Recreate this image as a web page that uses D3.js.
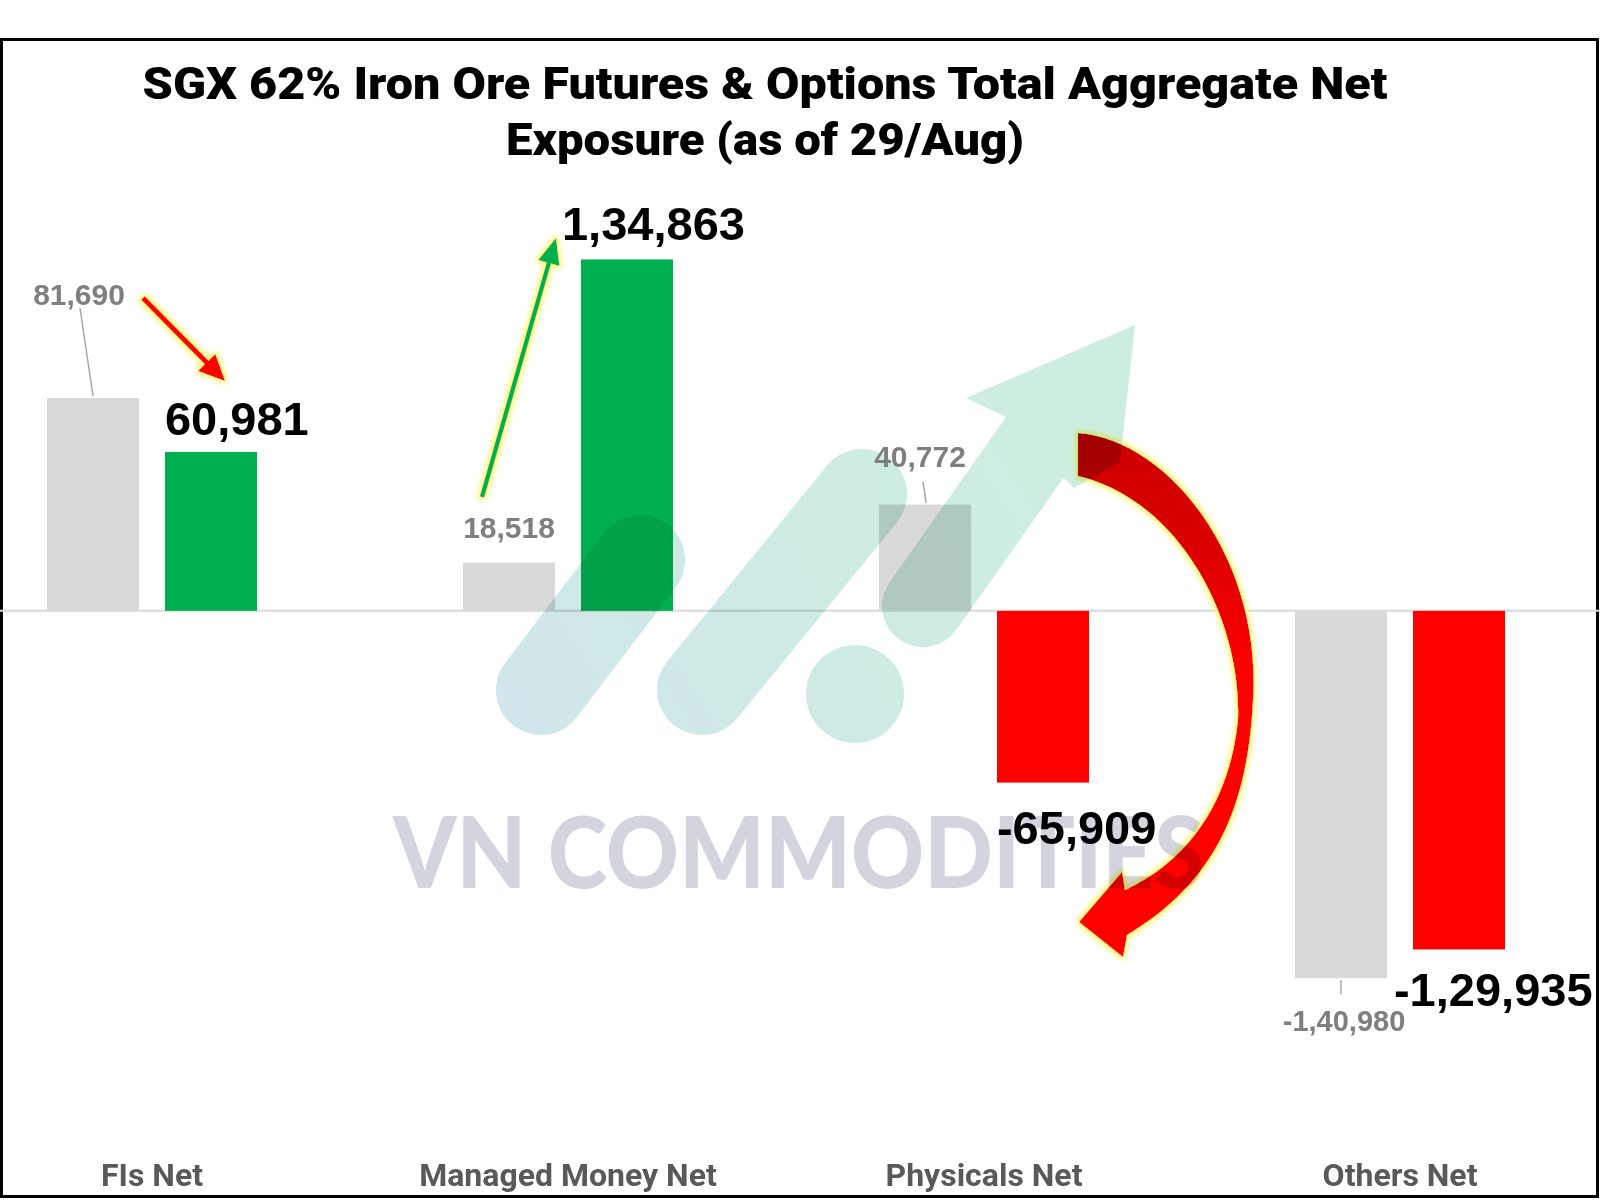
<!DOCTYPE html>
<html>
<head>
<meta charset="utf-8">
<script src="https://cdn.jsdelivr.net/npm/d3@7"></script>
<style>
html, body { margin: 0; padding: 0; background: #fff; }
svg { display: block; }
.blend { mix-blend-mode: multiply; }
</style>
</head>
<body>
<div id="chart"></div>
<script>
// data
var categories = ["FIs Net", "Managed Money Net", "Physicals Net", "Others Net"];
var seriesKeys = ["previous", "latest"];
var previousValues = [81690, 18518, 40772, -140980];
var latestValues = [60981, 134863, -65909, -129935];
var previousLabels = ["81,690", "18,518", "40,772", "-1,40,980"];
var latestLabels = ["60,981", "1,34,863", "-65,909", "-1,29,935"];
var titleLines = ["SGX 62% Iron Ore Futures & Options Total Aggregate Net", "Exposure (as of 29/Aug)"];
var watermark = "VN COMMODITIES";

// label placement (offsets from the bar end)
var prevOffsets = [[-14, -93], [0, -25], [-5, -38], [3, 53]];
var latestOffsets = [[0, -17], [-19, -19], [0, 61], [-19, 57]];
var leaders = [[0, -13, -90, 0, -2], [2, -2, -23, 1, -2], [3, 0, 2, 0, 16]];

var width = 1600,
    height = 1200;

var svg = d3.select("#chart").append("svg")
    .attr("width", width)
    .attr("height", height);

var defs = svg.append("defs");

// yellow halo used on the hand drawn arrows
var glow = defs.append("filter").attr("id", "glow")
    .attr("x", "-50%").attr("y", "-50%").attr("width", "200%").attr("height", "200%");
glow.append("feMorphology").attr("in", "SourceAlpha").attr("operator", "dilate").attr("radius", 2).attr("result", "dil");
glow.append("feGaussianBlur").attr("in", "dil").attr("stdDeviation", 2.5).attr("result", "blur");
glow.append("feFlood").attr("flood-color", "#fff36b").attr("result", "col");
glow.append("feComposite").attr("in", "col").attr("in2", "blur").attr("operator", "in").attr("result", "halo");
var merge = glow.append("feMerge");
merge.append("feMergeNode").attr("in", "halo");
merge.append("feMergeNode").attr("in", "SourceGraphic");

var logoGrad = defs.append("linearGradient").attr("id", "logoGrad")
    .attr("gradientUnits", "userSpaceOnUse")
    .attr("x1", 500).attr("y1", 740).attr("x2", 1000).attr("y2", 420);
logoGrad.append("stop").attr("offset", 0).attr("stop-color", "#d0e6eb");
logoGrad.append("stop").attr("offset", 1).attr("stop-color", "#cdeedf");

var redGrad = defs.append("linearGradient").attr("id", "redGrad")
    .attr("gradientUnits", "userSpaceOnUse")
    .attr("x1", 0).attr("y1", 430).attr("x2", 0).attr("y2", 680);
redGrad.append("stop").attr("offset", 0).attr("stop-color", "#cc0000");
redGrad.append("stop").attr("offset", 0.5).attr("stop-color", "#dd0000");
redGrad.append("stop").attr("offset", 1).attr("stop-color", "#ff0000");

// scales
var x0 = d3.scaleBand()
    .domain(categories)
    .range([-56, 1608]);

var x1 = d3.scaleBand()
    .domain(seriesKeys)
    .range([103, 313])
    .paddingInner(0.22);

var y = d3.scaleLinear()
    .domain([-200000, 150000])
    .range([1132, 220]);

var rows = categories.map(function(c, i) {
    return { cat: c, i: i, previous: previousValues[i], latest: latestValues[i] };
});

function barX(i, key) { return x0(categories[i]) + x1(key); }
function barCx(i, key) { return barX(i, key) + x1.bandwidth() / 2; }
function barEnd(i, key) {
    var v = key === "previous" ? previousValues[i] : latestValues[i];
    return y(v);
}

// frame
svg.append("rect")
    .attr("x", 1.5).attr("y", 39.5)
    .attr("width", 1596).attr("height", 1157)
    .attr("fill", "none")
    .attr("stroke", "#000")
    .attr("stroke-width", 3);

// title
svg.append("g").selectAll("text")
    .data(titleLines).enter()
    .append("text")
    .attr("x", 765)
    .attr("y", function(d, i) { return 99 + i * 56; })
    .attr("text-anchor", "middle")
    .attr("textLength", function(d, i) { return i === 0 ? 1245 : 518; })
    .attr("lengthAdjust", "spacingAndGlyphs")
    .style("font-family", "Roboto, 'Liberation Sans', Arial, sans-serif")
    .style("font-weight", "900")
    .style("font-size", "45px")
    .attr("fill", "#000")
    .text(function(d) { return d; });

// zero line
svg.append("line")
    .attr("x1", 0).attr("x2", width)
    .attr("y1", y(0)).attr("y2", y(0))
    .attr("stroke", "#d9d9d9")
    .attr("stroke-width", 2);

// bars
var groups = svg.append("g").selectAll("g")
    .data(rows).enter()
    .append("g")
    .attr("transform", function(d) { return "translate(" + x0(d.cat) + ",0)"; });

groups.selectAll("rect")
    .data(function(d) { return seriesKeys.map(function(k) { return { key: k, value: d[k] }; }); })
    .enter().append("rect")
    .attr("x", function(d) { return x1(d.key); })
    .attr("width", x1.bandwidth())
    .attr("y", function(d) { return y(Math.max(0, d.value)); })
    .attr("height", function(d) { return Math.abs(y(d.value) - y(0)); })
    .attr("fill", function(d) {
        if (d.key === "previous") return "#d9d9d9";
        return d.value >= 0 ? "#00b050" : "#ff0000";
    });

// big red curved arrow
svg.append("path")
    .attr("d", "M1078,433 C1170,440 1262,560 1253,700 C1248,800 1220,880 1127,935 L1123,957 L1079,922 L1122,872 L1125,890 C1190,860 1230,800 1238,720 C1242,620 1180,500 1078,476 Z")
    .attr("fill", "url(#redGrad)")
    .attr("filter", "url(#glow)");

// watermark logo (multiplied over the chart)
var logo = svg.append("g").attr("class", "blend");
logo.append("line")
    .attr("x1", 541).attr("y1", 690).attr("x2", 640).attr("y2", 560)
    .attr("stroke", "url(#logoGrad)").attr("stroke-width", 90).attr("stroke-linecap", "round");
logo.append("line")
    .attr("x1", 702).attr("y1", 690).attr("x2", 862).attr("y2", 494)
    .attr("stroke", "url(#logoGrad)").attr("stroke-width", 90).attr("stroke-linecap", "round");
logo.append("circle")
    .attr("cx", 855).attr("cy", 694).attr("r", 49)
    .attr("fill", "url(#logoGrad)");
logo.append("path")
    .attr("d", "M923,606 L1040,440")
    .attr("stroke", "url(#logoGrad)").attr("stroke-width", 82).attr("stroke-linecap", "round");
logo.append("path")
    .attr("d", "M966,398 L1135,325 L1120,462 L1074,488 L1004,416 Z")
    .attr("fill", "url(#logoGrad)");

svg.append("text")
    .attr("class", "blend")
    .attr("x", 393)
    .attr("y", 888)
    .attr("textLength", 811)
    .attr("lengthAdjust", "spacingAndGlyphs")
    .style("font-family", "Lato, 'Open Sans', sans-serif")
    .style("font-weight", "900")
    .style("font-size", "100px")
    .attr("fill", "#d2d5de")
    .text(watermark);

// leader lines for the grey labels
svg.append("g").selectAll("line")
    .data(leaders).enter()
    .append("line")
    .attr("x1", function(d) { return barCx(d[0], "previous") + d[1]; })
    .attr("y1", function(d) { return barEnd(d[0], "previous") + d[2]; })
    .attr("x2", function(d) { return barCx(d[0], "previous") + d[3]; })
    .attr("y2", function(d) { return barEnd(d[0], "previous") + d[4]; })
    .attr("stroke", "#a6a6a6")
    .attr("stroke-width", 1.5);

// grey (previous) labels
svg.append("g").selectAll("text")
    .data(rows).enter()
    .append("text")
    .attr("x", function(d) { return barCx(d.i, "previous") + prevOffsets[d.i][0]; })
    .attr("y", function(d) { return barEnd(d.i, "previous") + prevOffsets[d.i][1]; })
    .attr("text-anchor", "middle")
    .style("font-family", "'Liberation Sans', Arial, sans-serif")
    .style("font-weight", "700")
    .style("font-size", function(d) { return d.i === 3 ? "29px" : "30px"; })
    .attr("fill", "#7f7f7f")
    .text(function(d) { return previousLabels[d.i]; });

// black (latest) labels
svg.append("g").selectAll("text")
    .data(rows).enter()
    .append("text")
    .attr("x", function(d) { return barX(d.i, "latest") + latestOffsets[d.i][0]; })
    .attr("y", function(d) { return barEnd(d.i, "latest") + latestOffsets[d.i][1]; })
    .style("font-family", "'Liberation Sans', Arial, sans-serif")
    .style("font-weight", "700")
    .style("font-size", "47px")
    .attr("fill", "#000")
    .text(function(d) { return latestLabels[d.i]; });

// small arrows
function arrowPath(xa, ya, xb, yb, w, hl, hw) {
    var dx = xb - xa, dy = yb - ya, L = Math.sqrt(dx * dx + dy * dy);
    var ux = dx / L, uy = dy / L, px = -uy, py = ux;
    var bx = xb - ux * hl, by = yb - uy * hl;
    var pts = [
        [xa + px * w / 2, ya + py * w / 2],
        [bx + px * w / 2, by + py * w / 2],
        [bx + px * hw / 2, by + py * hw / 2],
        [xb, yb],
        [bx - px * hw / 2, by - py * hw / 2],
        [bx - px * w / 2, by - py * w / 2],
        [xa - px * w / 2, ya - py * w / 2]
    ];
    return "M" + pts.map(function(p) { return p[0].toFixed(1) + "," + p[1].toFixed(1); }).join("L") + "Z";
}

svg.append("path")
    .attr("d", arrowPath(143, 298, 225, 381, 5, 26, 24))
    .attr("fill", "#ff0000")
    .attr("filter", "url(#glow)");

svg.append("path")
    .attr("d", arrowPath(482, 497, 556, 238, 4.5, 26, 22))
    .attr("fill", "#00b050")
    .attr("filter", "url(#glow)");

// category axis
var axis = svg.append("g")
    .attr("transform", "translate(0,1186)")
    .call(d3.axisBottom(x0).tickSize(0).tickPadding(0));
axis.select(".domain").remove();
axis.selectAll("text")
    .attr("y", 0)
    .attr("dy", 0)
    .style("font-family", "Roboto, 'Liberation Sans', Arial, sans-serif")
    .style("font-weight", "700")
    .style("font-size", "32px")
    .attr("fill", "#595959");
</script>
</body>
</html>
